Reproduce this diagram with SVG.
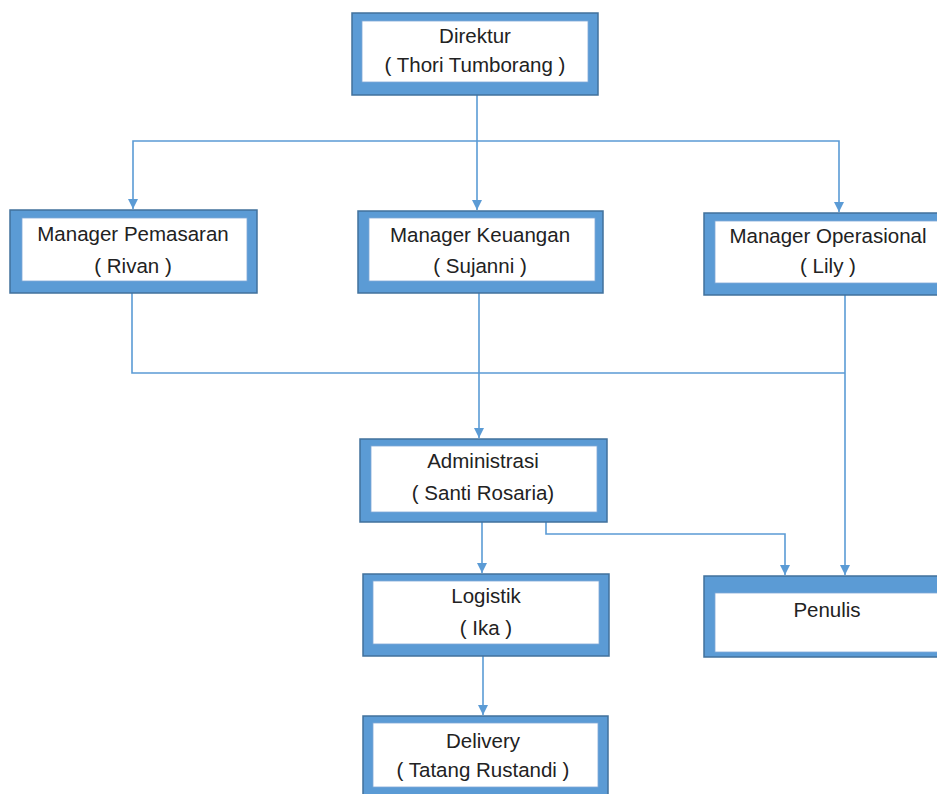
<svg xmlns="http://www.w3.org/2000/svg" width="937" height="794" viewBox="0 0 937 794">
<defs>
<style>
.outer{fill:#5b9bd5;stroke:#41719c;stroke-width:1.5}
.inner{fill:#ffffff;stroke:#7fa9d6;stroke-width:0.8}
.t{font-family:"Liberation Sans",Arial,sans-serif;font-size:20.5px;fill:#222222;text-anchor:middle}
.c{fill:none;stroke:#5b9bd5;stroke-width:1.6}
</style>
<marker id="ah" markerUnits="userSpaceOnUse" markerWidth="12" markerHeight="12" viewBox="0 0 12 12" refX="10" refY="6" orient="auto">
<path d="M0,1 L10,6 L0,11 Z" fill="#5b9bd5"/>
</marker>
</defs>
<rect width="937" height="794" fill="#ffffff"/>
<g id="connectors">
<path class="c" d="M477,95 V210" marker-end="url(#ah)"/>
<path class="c" d="M477,141 H133 V209" marker-end="url(#ah)"/>
<path class="c" d="M477,141 H839 V212" marker-end="url(#ah)"/>
<path class="c" d="M132,293 V373 H845"/>
<path class="c" d="M845,295 V575" marker-end="url(#ah)"/>
<path class="c" d="M479,293 V438" marker-end="url(#ah)"/>
<path class="c" d="M482,522 V573" marker-end="url(#ah)"/>
<path class="c" d="M546,522 V534 H785 V575" marker-end="url(#ah)"/>
<path class="c" d="M483,656 V715" marker-end="url(#ah)"/>
</g>
<g id="direktur">
<rect class="outer" x="352" y="13" width="246" height="82"/>
<rect class="inner" x="362" y="21" width="226" height="61"/>
<text class="t" x="475" y="43">Direktur</text>
<text class="t" x="475" y="72">( Thori Tumborang )</text>
</g>
<g id="manager-pemasaran">
<rect class="outer" x="10" y="210" width="247" height="83"/>
<rect class="inner" x="22" y="218" width="225" height="63"/>
<text class="t" x="133" y="241">Manager Pemasaran</text>
<text class="t" x="133" y="273">( Rivan )</text>
</g>
<g id="manager-keuangan">
<rect class="outer" x="358" y="211" width="245" height="82"/>
<rect class="inner" x="369" y="218" width="226" height="63"/>
<text class="t" x="480" y="242">Manager Keuangan</text>
<text class="t" x="480" y="273">( Sujanni )</text>
</g>
<g id="manager-operasional">
<rect class="outer" x="704" y="213" width="246" height="82"/>
<rect class="inner" x="715" y="221" width="225" height="62"/>
<text class="t" x="828" y="243">Manager Operasional</text>
<text class="t" x="828" y="273">( Lily )</text>
</g>
<g id="administrasi">
<rect class="outer" x="360" y="439" width="247" height="83"/>
<rect class="inner" x="371" y="446" width="226" height="66"/>
<text class="t" x="483" y="468">Administrasi</text>
<text class="t" x="483" y="500">( Santi Rosaria)</text>
</g>
<g id="logistik">
<rect class="outer" x="363" y="574" width="246" height="82"/>
<rect class="inner" x="373" y="581" width="226" height="63"/>
<text class="t" x="486" y="603">Logistik</text>
<text class="t" x="486" y="635">( Ika )</text>
</g>
<g id="penulis">
<rect class="outer" x="704" y="576" width="246" height="81"/>
<rect class="inner" x="715" y="593" width="225" height="59"/>
<text class="t" x="827" y="617">Penulis</text>
</g>
<g id="delivery">
<rect class="outer" x="363" y="716" width="245" height="90"/>
<rect class="inner" x="373" y="723" width="225" height="64"/>
<text class="t" x="483" y="748">Delivery</text>
<text class="t" x="483" y="777">( Tatang Rustandi )</text>
</g>
</svg>
